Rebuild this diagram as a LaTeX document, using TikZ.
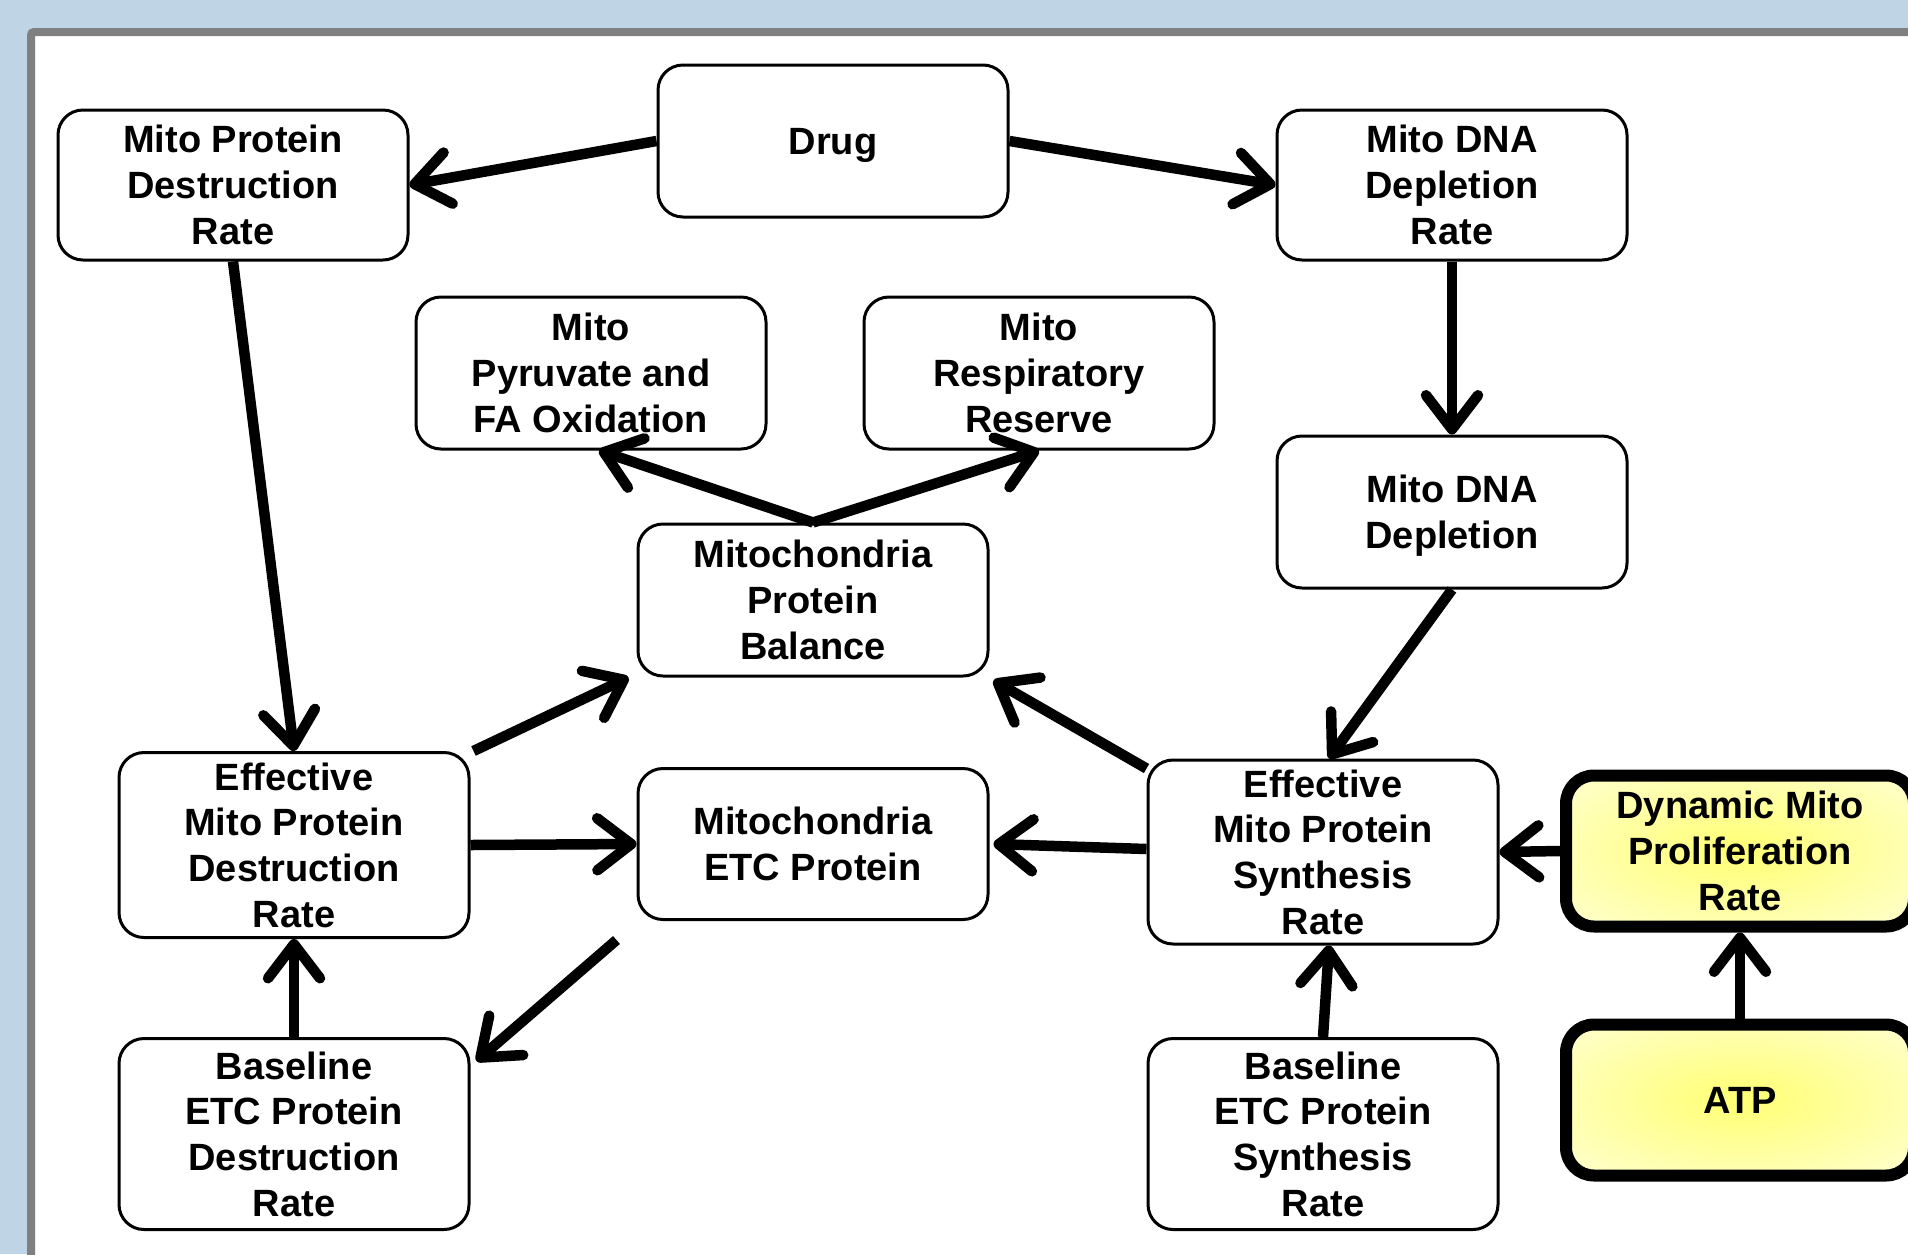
\documentclass[tikz,border=0pt]{standalone}
\usepackage{fontspec}
\setmainfont{Liberation Sans}
\usetikzlibrary{arrows.meta,calc}
\definecolor{bgblue}{RGB}{191,212,229}
\definecolor{framegray}{RGB}{128,128,128}
\pgfdeclareradialshading{yelshade}{\pgfpoint{0bp}{0bp}}{color(0bp)=(yellow!55); color(40bp)=(yellow!14); color(50bp)=(yellow!14)}
\newcommand\capfix{\rule{0pt}{35.2pt}}
\begin{document}
\begin{tikzpicture}[x=1pt,y=-1pt,
  box/.style={draw, line width=3pt, rounded corners=25pt, fill=white, minimum width=350pt,
    align=center, font=\bfseries\fontsize{38}{45.6}\selectfont, inner sep=0pt},
  ybox/.style={box, line width=12pt, shading=yelshade, rounded corners=28pt, minimum width=348pt, minimum height=151pt},
  arr/.style={line width=10.5pt, -{Straight Barb[length=34pt,width=52pt,round]}},
]
\useasboundingbox (0,0) rectangle (1908,1254);
\fill[bgblue] (0,0) rectangle (1908,1254);
\draw[framegray, fill=white, line width=8pt, rounded corners=3pt] (31,32) rectangle (1930,1280);

\node[box, minimum height=150pt] (n1) at (233,185) {Mito Protein\\Destruction\\Rate};
\node[box, minimum height=152pt] (drug) at (833,141) {\capfix Drug};
\node[box, minimum height=150pt] (dnadr) at (1452,185) {Mito DNA\\Depletion\\Rate};
\node[box, minimum height=152pt] (pyr) at (591,373) {Mito\\Pyruvate and\\FA Oxidation};
\node[box, minimum height=152pt] (resp) at (1039,373) {Mito\\Respiratory\\Reserve};
\node[box, minimum height=152pt] (dnad) at (1452,512) {\capfix Mito DNA\\Depletion};
\node[box, minimum height=152pt] (mpb) at (813,600) {Mitochondria\\Protein\\Balance};
\node[box, minimum height=185pt] (empdr) at (294,845) {Effective\\Mito Protein\\Destruction\\Rate};
\node[box, minimum height=151pt] (etc) at (813,844) {Mitochondria\\ETC Protein};
\node[box, minimum height=184pt] (empsr) at (1323,852) {Effective\\Mito Protein\\Synthesis\\Rate};
\node[ybox] (dmpr) at (1740,851) {Dynamic Mito\\Proliferation\\Rate};
\node[box, minimum height=191pt] (bepdr) at (294,1134) {Baseline\\ETC Protein\\Destruction\\Rate};
\node[box, minimum height=191pt] (bepsr) at (1323,1134) {Baseline\\ETC Protein\\Synthesis\\Rate};
\node[ybox] (atp) at (1740,1100) {ATP};

\coordinate (etcout) at ([xshift=-20pt,yshift=-19pt]etc.south west);

\draw[arr] (drug.west) -- (n1.east);
\draw[arr] (drug.east) -- (dnadr.west);
\draw[arr] (n1.south) -- (empdr.north);
\draw[arr] (dnadr.south) -- (dnad.north);
\draw[arr] (dnad.south) -- ([xshift=6pt]empsr.north);
\draw[arr] (mpb.north) -- ([xshift=8pt]pyr.south);
\draw[arr] (mpb.north) -- (resp.south);
\draw[arr] ([xshift=3pt]empdr.north east) -- ([xshift=-8pt]mpb.south west);
\draw[arr] (empdr.east) -- (etc.west);
\draw[arr] ([yshift=-10pt]empsr.north west) -- ([xshift=4pt,yshift=-3pt]mpb.south east);
\draw[arr] ([yshift=3pt]empsr.west) -- ([xshift=4pt]etc.east);
\draw[arr] (dmpr.west) -- (empsr.east);
\draw[arr] (etcout) -- ([xshift=6pt,yshift=-24pt]bepdr.north east);
\draw[arr] (bepdr.north) -- (empdr.south);
\draw[arr] (bepsr.north) -- ([xshift=6pt]empsr.south);
\draw[arr] (atp.north) -- (dmpr.south);
\end{tikzpicture}
\end{document}
